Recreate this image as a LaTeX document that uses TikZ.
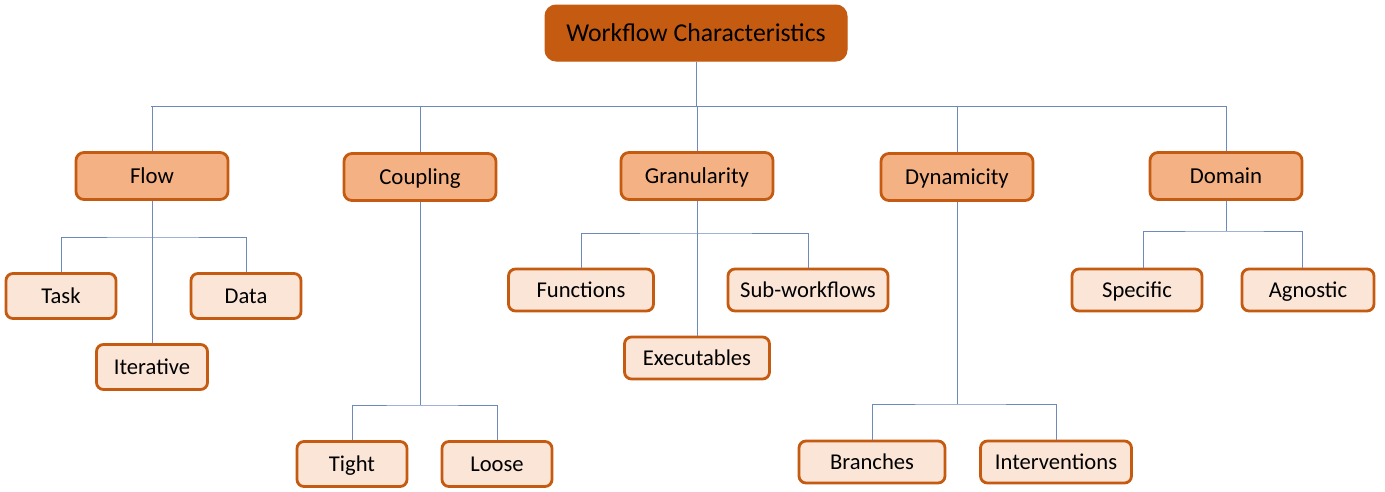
\documentclass[tikz,border=0pt]{standalone}
\usepackage{fontspec}
\setmainfont{Carlito}
\usetikzlibrary{calc}
\definecolor{rootfill}{HTML}{C55A11}
\definecolor{midfill}{HTML}{F4B183}
\definecolor{leaffill}{HTML}{FBE5D6}
\definecolor{boxedge}{HTML}{C55A11}
\definecolor{wirecol}{RGB}{110,138,186}
\begin{document}
\begin{tikzpicture}[x=1pt,y=-1pt,
  box/.style={rounded corners=8pt, line width=2.8pt, draw=boxedge, inner sep=0pt, align=center,
    text=black, text height=14.6pt, text depth=0pt},
  rootbox/.style={box, fill=rootfill, draw=rootfill, line width=1pt, rounded corners=11pt,
    minimum width=302pt, minimum height=56pt, text height=16.5pt,
    font=\fontsize{25.7}{30}\selectfont},
  catbox/.style={box, fill=midfill, minimum width=152pt, minimum height=47pt,
    font=\fontsize{22.8}{27}\selectfont},
  leafbox/.style={box, fill=leaffill, rounded corners=7pt, minimum height=45pt,
    font=\fontsize{22.6}{27}\selectfont},
  wire/.style={draw=wirecol, line width=0.9pt}]
\useasboundingbox (0,0) rectangle (1385,491);

% root and categories
\node[rootbox] (root) at (696,33) {Workflow Characteristics};
\node[catbox] (flow) at (152,176) {Flow};
\node[catbox] (coup) at (420,177) {Coupling};
\node[catbox] (gran) at (697,176) {Granularity};
\node[catbox] (dyn)  at (957,177) {Dynamicity};
\node[catbox] (dom)  at (1226,176) {Domain};

% leaves
\node[leafbox, minimum width=110pt] (task) at (61,296) {Task};
\node[leafbox, minimum width=110pt] (data) at (246,296) {Data};
\node[leafbox, minimum width=111pt] (iter) at (152,367) {Iterative};
\node[leafbox, minimum width=110pt] (tight) at (352,464) {Tight};
\node[leafbox, minimum width=110pt] (loose) at (497,464) {Loose};
\node[leafbox, minimum width=145pt, minimum height=42pt] (func) at (581,290) {Functions};
\node[leafbox, minimum width=160pt, minimum height=42pt] (sub) at (808,290) {Sub-workflows};
\node[leafbox, minimum width=145pt, minimum height=42pt] (exec) at (697,358) {Executables};
\node[leafbox, minimum width=146pt, minimum height=42pt] (branch) at (872,462) {Branches};
\node[leafbox, minimum width=151pt, minimum height=42pt] (interv) at (1056,462) {Interventions};
\node[leafbox, minimum width=130pt, minimum height=42pt] (spec) at (1137,290) {Specific};
\node[leafbox, minimum width=132pt, minimum height=42pt] (agn) at (1308,290) {Agnostic};

% top-level bus
\coordinate (busL) at (151,106);
\coordinate (busR) at (1227,106);
\draw[wire] (busL) -- (busR);
\draw[wire] (root.south) -- (root.south |- busL);
\foreach \c in {flow,coup,gran,dyn,dom}
  \draw[wire] (\c.north) -- (\c.north |- busL);

% Flow
\coordinate (flowbus) at (152,237);
\draw[wire] (flow.south) -- (iter.north);
\draw[wire] (task.north) |- (flowbus) -| (data.north);

% Coupling
\coordinate (coupbus) at (420,405);
\draw[wire] (coup.south) -- (coupbus);
\draw[wire] (tight.north) |- (coupbus) -| (loose.north);

% Granularity
\coordinate (granbus) at (697,233);
\draw[wire] (gran.south) -- (exec.north);
\draw[wire] (func.north) |- (granbus) -| (sub.north);

% Dynamicity
\coordinate (dynbus) at (957,404);
\draw[wire] (dyn.south) -- (dynbus);
\draw[wire] (branch.north) |- (dynbus) -| (interv.north);

% Domain
\coordinate (dombus) at (1226,231);
\draw[wire] (dom.south) -- (dombus);
\draw[wire] ($(spec.north)+(6,0)$) |- (dombus) -| ($(agn.north)+(-6,0)$);
\end{tikzpicture}
\end{document}
